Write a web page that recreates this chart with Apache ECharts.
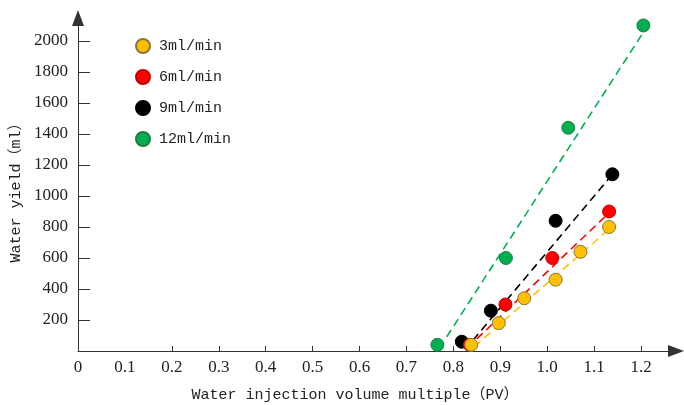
<!DOCTYPE html>
<html>
<head>
<meta charset="utf-8">
<script src="https://cdn.jsdelivr.net/npm/echarts@6/dist/echarts.min.js"></script>
<style>
  html, body { margin: 0; padding: 0; background: #fff; }
  #chart { width: 684px; height: 405px; }
</style>
</head>
<body>
<div id="chart"></div>
<script>
// Measured points: [water injection volume multiple (PV), water yield (ml)]
const rate3 = [[0.838, 40], [0.897, 180], [0.951, 340], [1.018, 460], [1.071, 640], [1.132, 800]];
const rate6 = [[0.835, 40], [0.911, 300], [1.011, 600], [1.132, 900]];
const rate9 = [[0.818, 60], [0.880, 260], [1.018, 840], [1.139, 1140]];
const rate12 = [[0.766, 40], [0.912, 600], [1.045, 1440], [1.205, 2100]];

// Linear trend lines (start and end of each fit)
const trend3 = [[0.845, 30], [1.130, 780]];
const trend6 = [[0.830, 20], [1.128, 880]];
const trend9 = [[0.842, 70], [1.135, 1125]];
const trend12 = [[0.786, 92], [1.207, 2065]];

const seriesNames = ['3ml/min', '6ml/min', '9ml/min', '12ml/min'];

// Tick positions and labels
const xLabelValues = [0, 0.1, 0.2, 0.3, 0.4, 0.5, 0.6, 0.7, 0.8, 0.9, 1.0, 1.1, 1.2];
const xTickValues = [0.2, 0.3, 0.4, 0.5, 0.6, 0.7, 0.8, 0.9, 1.0, 1.1, 1.2];
const yTickValues = [200, 400, 600, 800, 1000, 1200, 1400, 1600, 1800, 2000];

const monoFont = '"Liberation Mono", "Noto Sans CJK SC", monospace';
const serifFont = '"Liberation Serif", serif';
const axisColor = '#333';
const textColor = '#222';

function scatter(name, data, color, border, z) {
  return {
    name: name,
    type: 'scatter',
    data: data,
    symbol: 'circle',
    symbolSize: 13,
    z: z,
    itemStyle: { color: color, borderColor: border, borderWidth: 1, opacity: 1 },
    emphasis: { disabled: true }
  };
}

function trend(data, color) {
  return {
    type: 'line',
    data: data,
    showSymbol: false,
    symbol: 'none',
    z: 1,
    silent: true,
    lineStyle: { color: color, width: 1.6, type: [8, 5] }
  };
}

const chart = echarts.init(document.getElementById('chart'), null, { renderer: 'canvas' });

chart.setOption({
  backgroundColor: '#fff',
  animation: false,
  grid: { left: 78, right: 8, top: 18, bottom: 54, outerBoundsMode: 'none', containLabel: false },
  legend: {
    data: seriesNames,
    orient: 'vertical',
    left: 130,
    top: 33,
    itemWidth: 14,
    itemHeight: 14,
    itemGap: 15,
    textStyle: { fontFamily: monoFont, fontSize: 15, color: textColor, padding: [0, 0, 0, 4] }
  },
  xAxis: {
    type: 'value',
    min: 0,
    max: 1.2746,
    interval: 0.1,
    name: 'Water injection volume multiple（PV）',
    nameLocation: 'middle',
    nameGap: 37,
    nameTextStyle: { fontFamily: monoFont, fontSize: 15, color: textColor, padding: [0, 44, 0, 0] },
    axisLine: {
      show: true,
      symbol: ['none', 'triangle'],
      symbolSize: [12, 16],
      lineStyle: { color: axisColor, width: 1 }
    },
    axisTick: {
      show: true,
      inside: true,
      length: 5,
      customValues: xTickValues,
      lineStyle: { color: axisColor }
    },
    axisLabel: {
      customValues: xLabelValues,
      margin: 8,
      fontFamily: serifFont,
      fontSize: 17,
      color: textColor,
      formatter: function (v) { return v === 0 ? '0' : v.toFixed(1); }
    },
    splitLine: { show: false }
  },
  yAxis: {
    type: 'value',
    min: 0,
    max: 2148,
    interval: 200,
    name: 'Water yield（ml）',
    nameLocation: 'middle',
    nameGap: 54,
    nameTextStyle: { fontFamily: monoFont, fontSize: 15, color: textColor, padding: [0, 9, 0, 0] },
    axisLine: {
      show: true,
      symbol: ['none', 'triangle'],
      symbolSize: [12, 16],
      lineStyle: { color: axisColor, width: 1 }
    },
    axisTick: {
      show: true,
      inside: true,
      length: 12,
      customValues: yTickValues,
      lineStyle: { color: axisColor }
    },
    axisLabel: {
      customValues: yTickValues,
      margin: 10,
      fontFamily: serifFont,
      fontSize: 17,
      color: textColor,
      formatter: function (v) { return String(v); }
    },
    splitLine: { show: false }
  },
  series: [
    trend(trend12, '#00B050'),
    trend(trend9, '#000000'),
    trend(trend6, '#FF0000'),
    trend(trend3, '#FFC000'),
    scatter(seriesNames[3], rate12, '#00B050', '#1f7a43', 3),
    scatter(seriesNames[2], rate9, '#000000', '#000000', 4),
    scatter(seriesNames[1], rate6, '#FF0000', '#c00000', 5),
    scatter(seriesNames[0], rate3, '#FFC000', '#8a7440', 6)
  ]
});
</script>
</body>
</html>
